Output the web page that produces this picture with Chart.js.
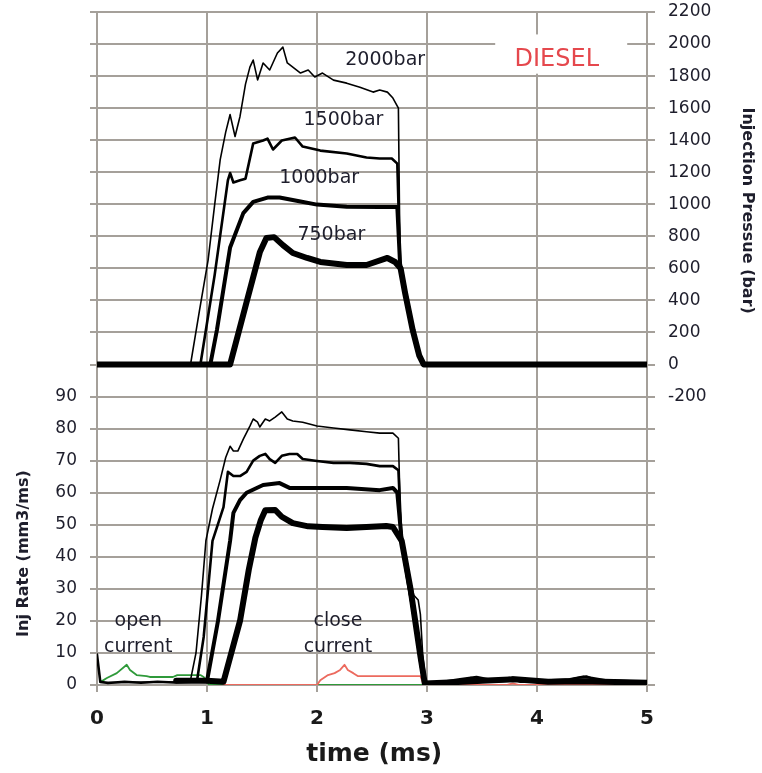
<!DOCTYPE html>
<html><head><meta charset="utf-8">
<script src="https://cdn.jsdelivr.net/npm/chart.js@4.4.1/dist/chart.umd.min.js"></script>
<style>html,body{margin:0;padding:0;background:#fff;}canvas{display:block;}</style>
</head><body>
<canvas id="c" width="762" height="773"></canvas>
<script>
// ---------- DATA ----------
const xTicks = [0, 1, 2, 3, 4, 5];
const rateTickMax = 90;          // left axis labels shown 0..90
const pressureTickMin = -200;    // right axis labels shown -200..2200

const pressureLabels = ['2000bar', '1500bar', '1000bar', '750bar'];

// Injection pressure (bar) vs time (ms)
const p2000T = [0, 0.85, 0.93, 1.01, 1.07, 1.12, 1.17, 1.21, 1.255, 1.30, 1.35, 1.39, 1.42, 1.46, 1.51, 1.57, 1.64, 1.69, 1.73, 1.78, 1.85, 1.92, 1.98, 2.05, 2.15, 2.27, 2.39, 2.51, 2.57, 2.64, 2.69, 2.74, 2.755, 2.80, 2.87, 2.93, 2.97, 5];
const p2000V = [0, 0, 330, 652, 1000, 1279, 1450, 1560, 1423, 1548, 1750, 1856, 1900, 1776, 1882, 1838, 1944, 1981, 1882, 1856, 1819, 1838, 1794, 1819, 1775, 1756, 1731, 1700, 1713, 1700, 1663, 1600, 640, 470, 220, 60, 0, 0];
const p1500T = [0, 0.94, 1.07, 1.19, 1.21, 1.24, 1.30, 1.35, 1.42, 1.51, 1.55, 1.60, 1.68, 1.80, 1.87, 2.03, 2.27, 2.45, 2.57, 2.68, 2.73, 2.755, 2.80, 2.87, 2.93, 2.97, 5];
const p1500V = [0, 0, 560, 1150, 1195, 1136, 1150, 1160, 1380, 1398, 1410, 1342, 1398, 1417, 1360, 1335, 1317, 1292, 1286, 1286, 1254, 640, 470, 220, 60, 0, 0];
const p1000T = [0, 1.03, 1.09, 1.21, 1.33, 1.42, 1.55, 1.66, 1.85, 2.0, 2.27, 2.57, 2.73, 2.755, 2.80, 2.87, 2.93, 2.97, 5];
const p1000V = [0, 0, 215, 730, 945, 1015, 1042, 1042, 1017, 998, 985, 983, 983, 630, 460, 215, 55, 0, 0];
const p750T  = [0, 1.21, 1.36, 1.48, 1.54, 1.61, 1.69, 1.78, 1.91, 2.03, 2.27, 2.45, 2.64, 2.71, 2.76, 2.80, 2.87, 2.93, 2.97, 5];
const p750V  = [0, 0, 390, 700, 790, 795, 745, 696, 665, 640, 621, 621, 665, 640, 600, 450, 215, 55, 0, 0];

// Injection rate (mm3/ms) vs time (ms)
const r2000T = [0.03, 0.2, 0.5, 0.8, 0.85, 0.90, 0.95, 0.99, 1.05, 1.12, 1.17, 1.21, 1.24, 1.28, 1.33, 1.39, 1.42, 1.46, 1.48, 1.53, 1.57, 1.62, 1.68, 1.73, 1.78, 1.87, 2.0, 2.15, 2.30, 2.45, 2.57, 2.69, 2.74, 2.76, 2.82, 2.88, 2.92, 2.94, 2.96, 2.99, 3.1, 3.3, 3.4, 3.5, 3.7, 3.78, 3.9, 4.2, 4.35, 4.45, 4.55, 4.8, 5];
const r2000V = [0.8, 0.8, 0.9, 1.0, 1.5, 10, 28, 45, 55, 64, 71, 74.5, 73, 73, 76.7, 80.8, 83, 82, 80.5, 83, 82.4, 83.6, 85.2, 83, 82.4, 82, 80.8, 80.2, 79.6, 79, 78.6, 78.6, 77, 50, 36, 28, 26.5, 22, 10, 0.5, 0.8, 1.5, 2.3, 1.2, 1.5, 2.5, 1.2, 1, 2.2, 2.8, 1.5, 0.8, 0.8];
const r1500T = [0, 0.03, 0.1, 0.25, 0.4, 0.55, 0.7, 0.86, 0.91, 0.97, 1.05, 1.15, 1.19, 1.24, 1.30, 1.36, 1.42, 1.48, 1.53, 1.57, 1.62, 1.68, 1.75, 1.82, 1.87, 2.0, 2.15, 2.30, 2.45, 2.57, 2.69, 2.74, 2.77, 2.83, 2.89, 2.94, 2.98, 3.15, 3.3, 3.45, 3.6, 3.75, 3.85, 4.0, 4.3, 4.42, 4.5, 4.7, 5];
const r1500V = [9.5, 1.0, 0.6, 1.0, 0.7, 1.0, 0.8, 1.0, 1.5, 15, 45, 55.5, 66.5, 65.2, 65.2, 66.5, 70, 71.5, 72.1, 70.5, 69.3, 71.5, 72.1, 72.1, 70.5, 69.9, 69.3, 69.3, 69, 68.3, 68.3, 67, 44, 31, 20, 7, 0.5, 1.0, 1.8, 2.5, 1.5, 2.2, 1.0, 1.2, 1.8, 2.6, 2.2, 1.0, 0.7];
const r1000T = [0.72, 0.85, 1.0, 1.1, 1.21, 1.24, 1.30, 1.36, 1.51, 1.66, 1.75, 1.96, 2.27, 2.57, 2.69, 2.73, 2.77, 2.84, 2.9, 2.95, 2.98, 3.2, 3.45, 3.8, 4.1, 4.4, 5];
const r1000V = [1.2, 1.3, 1.2, 20, 45, 53.7, 57.7, 60, 62.4, 63, 61.5, 61.5, 61.5, 60.8, 61.5, 60, 45, 31, 18, 6, 0.5, 0.8, 1.2, 1.6, 1.0, 1.4, 0.8];
const r750T  = [0.72, 1.0, 1.15, 1.30, 1.38, 1.44, 1.49, 1.53, 1.62, 1.68, 1.78, 1.92, 2.05, 2.27, 2.45, 2.63, 2.69, 2.77, 2.85, 2.94, 2.98, 3.2, 3.5, 3.8, 4.1, 4.4, 5];
const r750V  = [1.3, 1.3, 1.0, 20, 36, 46, 51.5, 54.5, 54.6, 52.5, 50.5, 49.5, 49.3, 49, 49.3, 49.6, 49.3, 45, 30, 9, 0.5, 0.8, 1.3, 1.8, 1.0, 1.2, 0.7];

// Open / close current traces (drawn on the rate scale)
const openCurT  = [0.03, 0.09, 0.18, 0.27, 0.30, 0.36, 0.45, 0.48, 0.69, 0.73, 0.94, 0.97, 1.02, 2.97];
const openCurV  = [0.9, 2.2, 3.7, 6.3, 4.7, 3.1, 2.8, 2.5, 2.5, 3.1, 3.1, 2.5, 0, 0];
const closeCurT = [1.15, 2.0, 2.03, 2.10, 2.16, 2.21, 2.25, 2.28, 2.33, 2.37, 2.94, 2.97, 3.72, 3.78, 3.84, 5];
const closeCurV = [0, 0, 1.5, 3.1, 3.7, 4.7, 6.3, 4.7, 3.7, 2.8, 2.8, 0, 0, 0.5, 0, 0];

// ---------- CHART ----------
const zip = (t, v) => t.map((x, i) => ({ x: x, y: v[i] }));
const GRID = '#a5a09a';
const TXT = '#1e1e2c';

function line(label, t, v, axis, color, width) {
  return { label, data: zip(t, v), yAxisID: axis, borderColor: color, borderWidth: width,
    pointRadius: 0, tension: 0, fill: false, borderJoinStyle: 'round', borderCapStyle: 'round' };
}

const datasets = [
  line('P ' + pressureLabels[0], p2000T, p2000V, 'yP', '#000', 1.6),
  line('P ' + pressureLabels[1], p1500T, p1500V, 'yP', '#000', 2.6),
  line('P ' + pressureLabels[2], p1000T, p1000V, 'yP', '#000', 4),
  line('P ' + pressureLabels[3], p750T, p750V, 'yP', '#000', 6),
  line('R ' + pressureLabels[0], r2000T, r2000V, 'yR', '#000', 1.6),
  line('R ' + pressureLabels[1], r1500T, r1500V, 'yR', '#000', 2.6),
  line('R ' + pressureLabels[2], r1000T, r1000V, 'yR', '#000', 4),
  line('R ' + pressureLabels[3], r750T, r750V, 'yR', '#000', 6),
  line('close current', closeCurT, closeCurV, 'yR', '#ec6a5e', 1.8),
  line('open current', openCurT, openCurV, 'yR', '#2f9a3a', 1.8)
];

const overlay = {
  id: 'overlay',
  afterDraw(chart) {
    const { ctx } = chart;
    const x = chart.scales.x, yR = chart.scales.yR, yP = chart.scales.yP;
    ctx.save();
    // DIESEL box
    const bx0 = x.getPixelForValue(3.62), bx1 = x.getPixelForValue(4.82);
    const by0 = yP.getPixelForValue(2060), by1 = yP.getPixelForValue(1815);
    ctx.fillStyle = '#fff';
    ctx.fillRect(bx0, by0, bx1 - bx0, by1 - by0);
    ctx.fillStyle = '#e5484d';
    ctx.font = '24px "DejaVu Sans"';
    ctx.textAlign = 'center';
    ctx.textBaseline = 'middle';
    ctx.fillText('DIESEL', x.getPixelForValue(4.18), yP.getPixelForValue(1900));

    // pressure labels
    ctx.fillStyle = TXT;
    ctx.font = '19px "DejaVu Sans"';
    const lp = [[2.62, 1900], [2.24, 1525], [2.02, 1164], [2.13, 808]];
    pressureLabels.forEach((s, i) => ctx.fillText(s, x.getPixelForValue(lp[i][0]), yP.getPixelForValue(lp[i][1])));

    // current labels
    ctx.fillText('open', x.getPixelForValue(0.375), yR.getPixelForValue(20));
    ctx.fillText('current', x.getPixelForValue(0.375), yR.getPixelForValue(11.9));
    ctx.fillText('close', x.getPixelForValue(2.19), yR.getPixelForValue(20));
    ctx.fillText('current', x.getPixelForValue(2.19), yR.getPixelForValue(11.9));

    // axis titles
    ctx.font = 'bold 16px "DejaVu Sans"';
    ctx.save();
    ctx.translate(24, yR.getPixelForValue(41));
    ctx.rotate(-Math.PI / 2);
    ctx.fillText('Inj Rate (mm3/ms)', 0, 0);
    ctx.restore();
    ctx.save();
    ctx.translate(747, yP.getPixelForValue(960));
    ctx.rotate(Math.PI / 2);
    ctx.fillText('Injection Pressue (bar)', 0, 0);
    ctx.restore();

    ctx.fillStyle = '#1a1a1a';
    ctx.font = 'bold 25px "DejaVu Sans"';
    ctx.fillText('time (ms)', x.getPixelForValue(2.52), 754);
    ctx.restore();
  }
};

const noPadY = w => s => { s.width = w; s.paddingTop = 0; s.paddingBottom = 0; };

new Chart(document.getElementById('c'), {
  type: 'line',
  data: { datasets },
  options: {
    responsive: false,
    devicePixelRatio: 1,
    animation: false,
    layout: { padding: { top: 12, left: 0, right: 0, bottom: 0 } },
    plugins: { legend: { display: false }, tooltip: { enabled: false }, title: { display: false } },
    scales: {
      x: {
        type: 'linear', min: xTicks[0], max: xTicks[xTicks.length - 1],
        afterBuildTicks: s => { s.ticks = xTicks.map(v => ({ value: v })); },
        ticks: { color: '#1a1a1a', font: { family: 'DejaVu Sans', size: 20, weight: 'bold' }, padding: 15, maxRotation: 0 },
        grid: { color: GRID, lineWidth: 2, tickLength: 7 },
        border: { display: false },
        afterFit: s => { s.height = 88; s.paddingLeft = 0; s.paddingRight = 0; }
      },
      yR: {
        position: 'left', min: 0, max: 210,
        ticks: { stepSize: 10, autoSkip: false, color: TXT, font: { family: 'DejaVu Sans', size: 17 }, padding: 13,
          callback: v => (v <= rateTickMax ? String(v) : '') },
        grid: { color: GRID, lineWidth: 2, tickLength: 7 },
        border: { display: false },
        afterFit: noPadY(97)
      },
      yP: {
        position: 'right', min: -2000, max: 2200,
        ticks: { stepSize: 200, autoSkip: false, color: TXT, font: { family: 'DejaVu Sans', size: 17 }, padding: 13,
          callback: v => (v >= pressureTickMin ? String(v) : '') },
        grid: { color: GRID, lineWidth: 2, tickLength: 8, drawOnChartArea: false },
        border: { display: false },
        afterFit: noPadY(115)
      }
    }
  },
  plugins: [overlay]
});
</script>
</body></html>
